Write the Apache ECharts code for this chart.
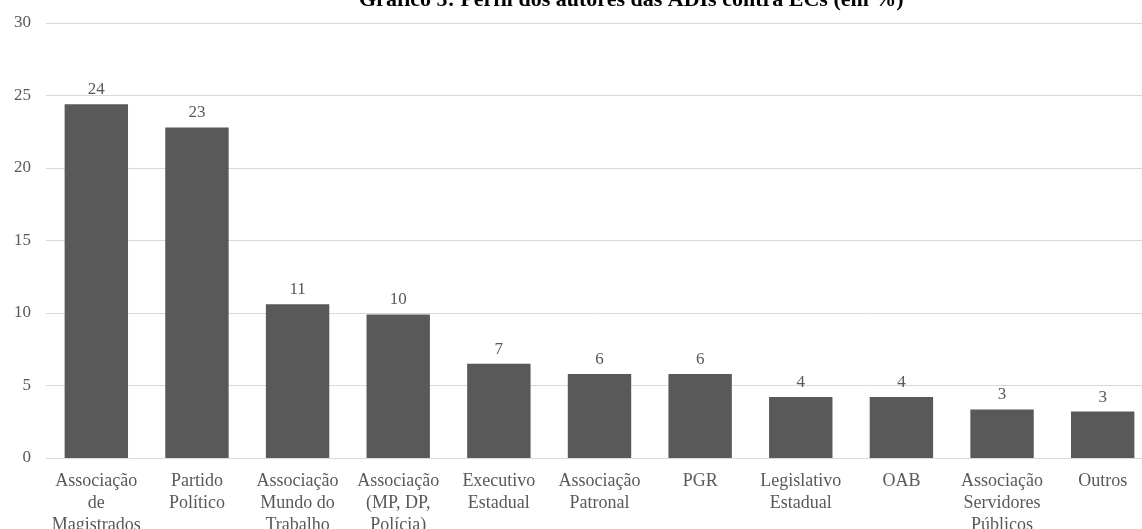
<!DOCTYPE html>
<html>
<head>
<meta charset="utf-8">
<script src="https://cdn.jsdelivr.net/npm/echarts@6/dist/echarts.min.js"></script>
<style>
html,body{margin:0;padding:0;background:#fff;}
#chart{width:1142px;height:529px;}
</style>
</head>
<body>
<div id="chart"></div>
<script>
const titleText = 'Gráfico 5: Perfil dos autores das ADIs contra ECs (em %)';
const categories = [
  'Associação\nde\nMagistrados',
  'Partido\nPolítico',
  'Associação\nMundo do\nTrabalho',
  'Associação\n(MP, DP,\nPolícia)',
  'Executivo\nEstadual',
  'Associação\nPatronal',
  'PGR',
  'Legislativo\nEstadual',
  'OAB',
  'Associação\nServidores\nPúblicos',
  'Outros'
];
const values = [24.4, 22.8, 10.6, 9.9, 6.5, 5.8, 5.8, 4.2, 4.2, 3.35, 3.2];
const valueLabels = ['24', '23', '11', '10', '7', '6', '6', '4', '4', '3', '3'];
const yTicks = { min: 0, max: 30, interval: 5 };

const chart = echarts.init(document.getElementById('chart'), null, {renderer: 'canvas'});
const font = 'Liberation Serif';
chart.setOption({
  animation: false,
  backgroundColor: '#ffffff',
  title: {
    text: titleText,
    left: 354,
    top: -16,
    textStyle: {fontFamily: font, fontSize: 22, fontWeight: 'bold', color: '#000'}
  },
  grid: {left: 46, top: 23, width: 1107, height: 435, containLabel: false, outerBoundsMode: 'none'},
  xAxis: {
    type: 'category',
    data: categories,
    axisLine: {show: true, lineStyle: {color: '#d9d9d9', width: 1}},
    axisTick: {show: false},
    axisLabel: {interval: 0, fontFamily: font, fontSize: 18, color: '#595959', lineHeight: 22, margin: 12}
  },
  yAxis: {
    type: 'value',
    min: yTicks.min, max: yTicks.max, interval: yTicks.interval,
    axisLine: {show: false},
    axisTick: {show: false},
    splitLine: {lineStyle: {color: '#d9d9d9', width: 1}},
    axisLabel: {fontFamily: font, fontSize: 17, color: '#595959', margin: 15}
  },
  series: [{
    type: 'bar',
    data: values,
    barCategoryGap: '37%',
    itemStyle: {color: '#595959'},
    label: {
      show: true,
      position: 'top',
      distance: 6,
      fontFamily: font,
      fontSize: 17,
      color: '#595959',
      formatter: p => valueLabels[p.dataIndex]
    }
  }]
});
</script>
</body>
</html>
